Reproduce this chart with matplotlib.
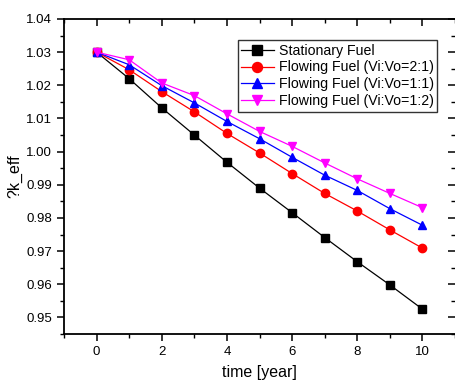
import matplotlib
matplotlib.use("Agg")
import matplotlib.pyplot as plt
from matplotlib.ticker import MultipleLocator

plt.rcParams['font.family'] = ['Liberation Sans', 'DejaVu Sans']

time = [0, 1, 2, 3, 4, 5, 6, 7, 8, 9, 10]
stationary = [1.030, 1.022, 1.0132, 1.005, 0.9968, 0.989, 0.9816, 0.9741, 0.9668, 0.9598, 0.9525]
flow_2_1 = [1.030, 1.0247, 1.0181, 1.0120, 1.0055, 0.9996, 0.9934, 0.9874, 0.9821, 0.9764, 0.9709]
flow_1_1 = [1.030, 1.0262, 1.0199, 1.0147, 1.0091, 1.0039, 0.9983, 0.9929, 0.9883, 0.9828, 0.9778]
flow_1_2 = [1.030, 1.0277, 1.0207, 1.0169, 1.0114, 1.0061, 1.0016, 0.9966, 0.9918, 0.9874, 0.9831]
labels = ["Stationary Fuel", "Flowing Fuel (Vi:Vo=2:1)", "Flowing Fuel (Vi:Vo=1:1)", "Flowing Fuel (Vi:Vo=1:2)"]
colors = ["black", "#ff0000", "#0000ff", "#ff00ff"]
markers = ["s", "o", "^", "v"]

fig = plt.figure(figsize=(4.56, 3.86), dpi=100)
ax = fig.add_axes([0.1404, 0.1347, 0.8574, 0.8161])

for ys, lab, c, m in zip([stationary, flow_2_1, flow_1_1, flow_1_2], labels, colors, markers):
    ax.plot(time, ys, color=c, marker=m, markersize=6, linewidth=0.9, label=lab)

ax.set_xlim(-1, 11)
ax.set_ylim(0.945, 1.04)
ax.xaxis.set_major_locator(MultipleLocator(2))
ax.xaxis.set_minor_locator(MultipleLocator(1))
ax.yaxis.set_major_locator(MultipleLocator(0.01))
ax.yaxis.set_minor_locator(MultipleLocator(0.005))
ax.yaxis.set_major_formatter(matplotlib.ticker.FormatStrFormatter('%.2f'))

ax.spines['right'].set_visible(False)
for s in ['left', 'bottom', 'top']:
    ax.spines[s].set_linewidth(1.3)

ax.tick_params(axis='both', which='major', labelsize=9.5, width=1.1, length=5)
ax.tick_params(axis='both', which='minor', width=1.0, length=3)
ax.tick_params(axis='x', which='both', direction='out', top=True)
ax.tick_params(axis='y', which='both', direction='out', right=True)
# top and right ticks point inward
for t in ax.xaxis.get_major_ticks() + ax.xaxis.get_minor_ticks():
    t.tick2line.set_marker(3)
for t in ax.yaxis.get_major_ticks() + ax.yaxis.get_minor_ticks():
    t.tick2line.set_marker(0)

ax.set_xlabel("time [year]", fontsize=11.5, labelpad=5)
ax.set_ylabel("?k_eff", fontsize=11.5, labelpad=3)

leg = ax.legend(loc='upper right', bbox_to_anchor=(0.9545, 0.933), fontsize=10.2, frameon=True,
                fancybox=False, edgecolor='black', handlelength=2.3, handletextpad=0.35,
                borderpad=0.25, labelspacing=0.2, borderaxespad=0.0, markerscale=1.2)
leg.get_frame().set_linewidth(1.0)

fig.savefig("out.png", dpi=100)
